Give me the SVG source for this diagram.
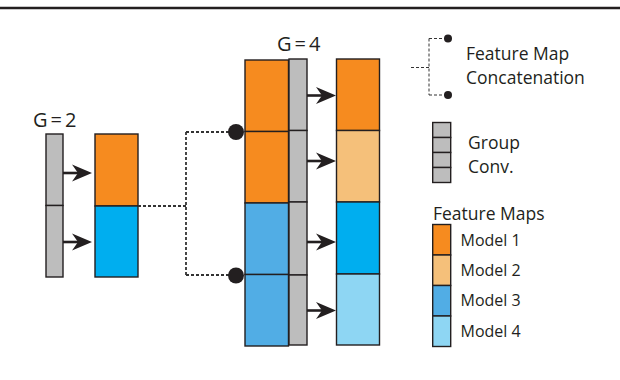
<svg xmlns="http://www.w3.org/2000/svg" width="620" height="380" viewBox="0 0 620 380">
  <defs>
    <style>
      .t { font-family: "Open Sans", "DejaVu Sans", sans-serif; fill: #231F20; }
      .cell { stroke: #231F20; stroke-width: 1.4; }
      .gray { fill: #BDBDBD; }
      .o1 { fill: #F68B1F; }
      .o2 { fill: #F5C07A; }
      .b1 { fill: #00AEEF; }
      .b2 { fill: #51ADE5; }
      .b3 { fill: #8ED6F3; }
      .arrow { stroke: #231F20; stroke-width: 2.6; fill: none; }
      .head { fill: #231F20; }
      .dash { stroke: #333; stroke-width: 1.8; stroke-dasharray: 3 2; fill: none; }
      .dashs { stroke: #333; stroke-width: 1; stroke-dasharray: 3 2; fill: none; }
    </style>
    <path id="ah" d="M0,0 L-20,-8.5 L-14,0 L-20,8.5 Z"/>
  </defs>
  <rect width="620" height="380" fill="#fff"/>
  <line x1="0" y1="8" x2="620" y2="8" stroke="#231F20" stroke-width="2.5"/>

  <g id="label-g2"><text class="t" x="33" y="127" font-size="20" letter-spacing="3">G=2</text></g>
  <g id="conv-g2">
    <rect class="cell gray" x="46" y="134" width="17" height="71.5"/>
    <rect class="cell gray" x="46" y="205.5" width="17" height="71.5"/>
  </g>
  <g id="fmap-left">
    <rect class="cell o1" x="95" y="134" width="43" height="72"/>
    <rect class="cell b1" x="95" y="206" width="43" height="71"/>
  </g>

  <g id="label-g4"><text class="t" x="277" y="51" font-size="20" letter-spacing="3">G=4</text></g>
  <g id="fmap-mid">
    <rect class="cell o1" x="245" y="60" width="43.5" height="71.5"/>
    <rect class="cell o1" x="245" y="131.5" width="43.5" height="71.5"/>
    <rect class="cell b2" x="245" y="203" width="43.5" height="71.5"/>
    <rect class="cell b2" x="245" y="274.5" width="43.5" height="71.5"/>
  </g>
  <g id="conv-g4">
    <rect class="cell gray" x="289" y="59" width="18" height="71.5"/>
    <rect class="cell gray" x="289" y="130.5" width="18" height="71.5"/>
    <rect class="cell gray" x="289" y="202" width="18" height="73"/>
    <rect class="cell gray" x="289" y="275" width="18" height="70"/>
  </g>
  <g id="fmap-right">
    <rect class="cell o1" x="336.5" y="59" width="43" height="71.5"/>
    <rect class="cell o2" x="336.5" y="130.5" width="43" height="71.5"/>
    <rect class="cell b1" x="336.5" y="202" width="43" height="72"/>
    <rect class="cell b3" x="336.5" y="274" width="43" height="71"/>
  </g>

  <g id="connectors">
    <line class="arrow" x1="63" y1="173" x2="80" y2="173"/>
    <use href="#ah" class="head" x="92" y="173"/>
    <line class="arrow" x1="63" y1="242" x2="80" y2="242"/>
    <use href="#ah" class="head" x="92" y="242"/>

    <path class="dash" d="M138,206 H186 M186,132 V275 M186,132 H236 M186,275 H236"/>
    <circle class="head" cx="236" cy="132" r="8"/>
    <circle class="head" cx="236" cy="275.5" r="8"/>

    <line class="arrow" x1="307" y1="95.5" x2="324" y2="95.5"/>
    <use href="#ah" class="head" x="336" y="95.5"/>
    <line class="arrow" x1="307" y1="161" x2="324" y2="161"/>
    <use href="#ah" class="head" x="336" y="161"/>
    <line class="arrow" x1="307" y1="242" x2="324" y2="242"/>
    <use href="#ah" class="head" x="336" y="242"/>
    <line class="arrow" x1="307" y1="310.5" x2="324" y2="310.5"/>
    <use href="#ah" class="head" x="336" y="310.5"/>
  </g>

  <g id="legend-concat">
    <path class="dashs" d="M411,67.5 H429 M429,38.5 V95 M429,38.5 H448 M429,95 H448"/>
    <circle class="head" cx="448" cy="38.5" r="4"/>
    <circle class="head" cx="448" cy="95" r="4"/>
    <text class="t" x="466" y="60" font-size="17.5">Feature Map</text>
    <text class="t" x="466" y="84" font-size="17.5">Concatenation</text>
  </g>
  <g id="legend-conv">
    <rect class="cell gray" x="432.7" y="122.5" width="18" height="15"/>
    <rect class="cell gray" x="432.7" y="137.5" width="18" height="15"/>
    <rect class="cell gray" x="432.7" y="152.5" width="18" height="15"/>
    <rect class="cell gray" x="432.7" y="167.5" width="18" height="15"/>
    <text class="t" x="468" y="149" font-size="17.5">Group</text>
    <text class="t" x="468" y="172.5" font-size="17.5">Conv.</text>
  </g>
  <g id="legend-fmaps">
    <text class="t" x="433" y="220" font-size="17.5">Feature Maps</text>
    <rect class="cell o1" x="432.7" y="224.5" width="18" height="30.5"/>
    <rect class="cell o2" x="432.7" y="255" width="18" height="30.5"/>
    <rect class="cell b2" x="432.7" y="285.5" width="18" height="30.5"/>
    <rect class="cell b3" x="432.7" y="316" width="18" height="30.5"/>
    <text class="t" x="460.5" y="246" font-size="16">Model 1</text>
    <text class="t" x="460.5" y="276" font-size="16">Model 2</text>
    <text class="t" x="460.5" y="306" font-size="16">Model 3</text>
    <text class="t" x="460.5" y="336.5" font-size="16">Model 4</text>
  </g>
</svg>
